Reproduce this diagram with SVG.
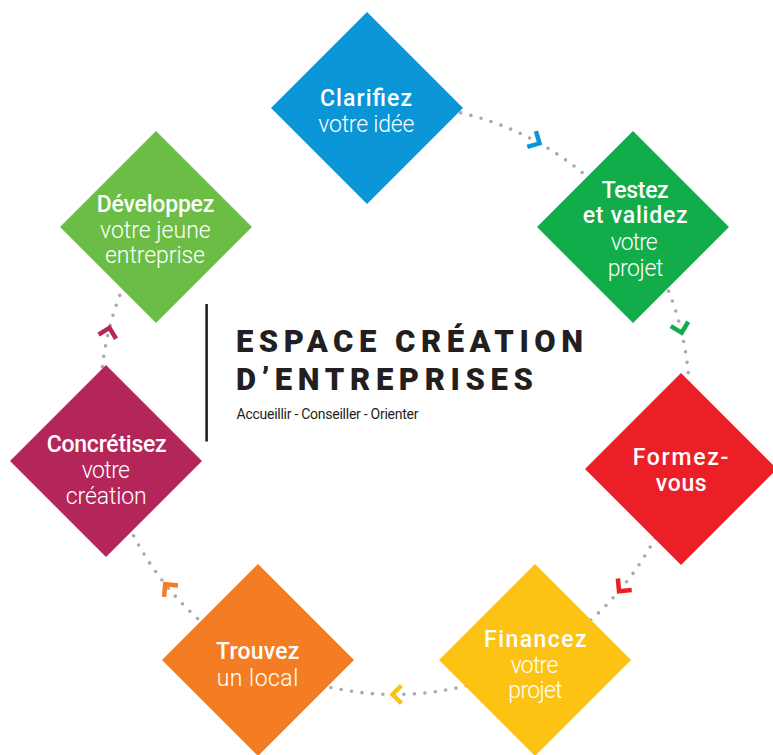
<svg xmlns="http://www.w3.org/2000/svg" xmlns:xlink="http://www.w3.org/1999/xlink" width="773" height="755" viewBox="0 0 773 755">
<style>
.dia text{font-family:Roboto,"Liberation Sans",sans-serif;fill:#fff;font-size:23px}
.b{font-weight:500}
.l{font-weight:300}
.dots{fill:none;stroke:#a7a9ac;stroke-width:3.6;stroke-linecap:round;stroke-dasharray:0 10.5}
.chev{fill:none;stroke-width:4.5;stroke-linejoin:miter;stroke-linecap:butt}
.title{font-family:Roboto,"Liberation Sans",sans-serif;fill:#231f20}
</style>
<defs>
<polygon id="dm" points="0,-96 96,0 0,96 -96,0"/>
<path id="chv" d="M -5 -9 L 4 0 L -5 9"/>
</defs>
<rect width="773" height="755" fill="#fff"/>
<g id="connectors">
<path class="dots" d="M 366.8 106.8 A 294.5 294.5 0 0 1 633.3 226.9"/>
<path class="dots" d="M 633.3 226.9 A 294.5 294.5 0 0 1 681.2 469.2"/>
<path class="dots" d="M 681.2 469.2 A 294.5 294.5 0 0 1 534.6 659.3"/>
<path class="dots" d="M 534.6 659.3 A 294.5 294.5 0 0 1 257.6 660.5"/>
<path class="dots" d="M 257.6 660.5 A 294.5 294.5 0 0 1 106.8 460.7"/>
<path class="dots" d="M 106.8 460.7 A 294.5 294.5 0 0 1 156.5 227.3"/>
<use xlink:href="#chv" class="chev" stroke="#0a96d6" transform="translate(536,141.4) rotate(28.6)"/>
<use xlink:href="#chv" class="chev" stroke="#12ac4b" transform="translate(680.7,328.8) rotate(76)"/>
<use xlink:href="#chv" class="chev" stroke="#ec1f27" transform="translate(621.6,588.1) rotate(129.7)"/>
<use xlink:href="#chv" class="chev" stroke="#fcc314" transform="translate(396.5,694.5) rotate(179.7)"/>
<use xlink:href="#chv" class="chev" stroke="#f47d23" transform="translate(167.8,587.3) rotate(230.5)"/>
<use xlink:href="#chv" class="chev" stroke="#b42559" transform="translate(108.5,331.8) rotate(283.4)"/>
</g>
<g id="clarifiez" class="dia">
<use xlink:href="#dm" fill="#0a96d6" transform="translate(367,108)"/>
<text class="b" x="320" y="105.7" textLength="92" lengthAdjust="spacing">Clarifiez</text>
<text class="l" x="318.3" y="131.7" textLength="96" lengthAdjust="spacing">votre idée</text>
</g>
<g id="testez" class="dia">
<use xlink:href="#dm" fill="#12ac4b" transform="translate(633,227)"/>
<text class="b" x="601.7" y="198.3" textLength="67" lengthAdjust="spacing">Testez</text>
<text class="b" x="582.7" y="223.3" textLength="105" lengthAdjust="spacing">et validez</text>
<text class="l" x="610.7" y="250" textLength="47" lengthAdjust="spacing">votre</text>
<text class="l" x="607.7" y="275.5" textLength="55.6" lengthAdjust="spacing">projet</text>
</g>
<g id="formez" class="dia">
<use xlink:href="#dm" fill="#ec1f27" transform="translate(681,469)"/>
<text class="b" x="632.7" y="465" textLength="95.6" lengthAdjust="spacing">Formez-</text>
<text class="b" x="655.7" y="491" textLength="51" lengthAdjust="spacing">vous</text>
</g>
<g id="financez" class="dia">
<use xlink:href="#dm" fill="#fcc314" transform="translate(535,660)"/>
<text class="b" x="484" y="647.3" textLength="102.7" lengthAdjust="spacing">Financez</text>
<text class="l" x="510.7" y="673.3" textLength="47.6" lengthAdjust="spacing">votre</text>
<text class="l" x="508.3" y="698" textLength="54.4" lengthAdjust="spacing">projet</text>
</g>
<g id="trouvez" class="dia">
<use xlink:href="#dm" fill="#f47d23" transform="translate(258,660)"/>
<text class="b" x="216" y="659.3" textLength="83.3" lengthAdjust="spacing">Trouvez</text>
<text class="l" x="216.7" y="686" textLength="81.6" lengthAdjust="spacing">un local</text>
</g>
<g id="concretisez" class="dia">
<use xlink:href="#dm" fill="#b42559" transform="translate(106,461)"/>
<text class="b" x="46.7" y="451.7" textLength="120" lengthAdjust="spacing">Concrétisez</text>
<text class="l" x="81.7" y="478.3" textLength="48.3" lengthAdjust="spacing">votre</text>
<text class="l" x="65.7" y="504" textLength="81" lengthAdjust="spacing">création</text>
</g>
<g id="developpez" class="dia">
<use xlink:href="#dm" fill="#6cbd45" transform="translate(156,227)"/>
<text class="b" x="96.7" y="211.7" textLength="117.6" lengthAdjust="spacing">Développez</text>
<text class="l" x="100" y="238.3" textLength="110.7" lengthAdjust="spacing">votre jeune</text>
<text class="l" x="105" y="263.3" textLength="100" lengthAdjust="spacing">entreprise</text>
</g>
<g id="title">
<rect x="205.3" y="304" width="2.6" height="137.5" fill="#231f20"/>
<text class="title" x="236" y="352" font-size="31" font-weight="900" textLength="347" lengthAdjust="spacing">ESPACE CRÉATION</text>
<text class="title" x="236" y="389.5" font-size="31" font-weight="900" textLength="297" lengthAdjust="spacing">D’ENTREPRISES</text>
<text class="title" x="236.5" y="418.5" font-size="14" font-weight="400" textLength="182" lengthAdjust="spacing">Accueillir - Conseiller - Orienter</text>
</g>
</svg>
